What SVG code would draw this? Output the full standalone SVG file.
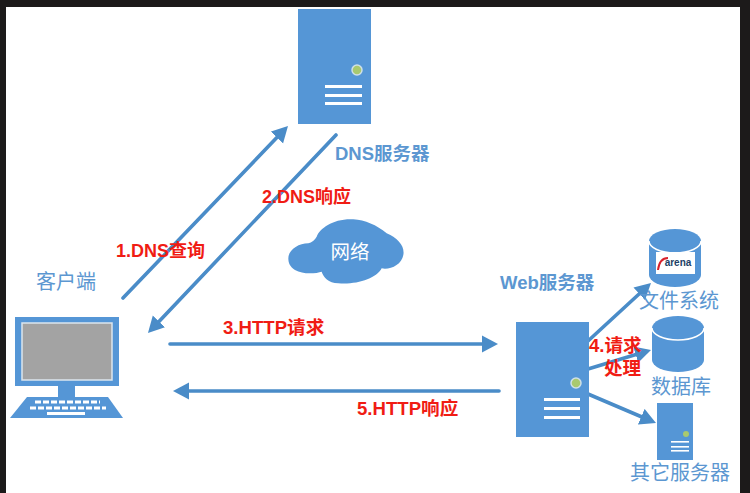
<svg xmlns="http://www.w3.org/2000/svg" width="750" height="493" viewBox="0 0 750 493">
<style>
.blue{fill:#5596d6}
.ln{fill:#fff}
.lbl{font-family:"Liberation Sans","Noto Sans CJK SC",sans-serif;font-size:18.5px;fill:#5c97d1;font-weight:700}
.lblw{font-family:"Noto Sans CJK SC","Liberation Sans",sans-serif;font-size:20px;fill:#5c97d1}
.red{font-family:"Liberation Sans","Noto Sans CJK SC",sans-serif;font-size:18px;fill:#f01c14;font-weight:700}
.redw{font-size:18.6px}
.conn{stroke:#4a8cc8;stroke-width:3.6;fill:none;stroke-linecap:round}
.head{fill:#4a8cc8}
</style>
<defs>
<marker id="arr" markerUnits="userSpaceOnUse" markerWidth="18" markerHeight="18" refX="2" refY="9" orient="auto"><path d="M0 0.5L16 9L0 17.5Z" class="head"/></marker>
</defs>
<rect width="750" height="493" fill="#fff"/>
<rect width="750" height="7" fill="#1c1a1a"/>
<rect width="6" height="493" fill="#1c1a1a"/>
<rect x="740" width="10" height="493" fill="#1c1a1a"/>
<g id="connectors">
<path class="conn" marker-end="url(#arr)" d="M123 298L278.3 136.1"/>
<path class="conn" marker-end="url(#arr)" d="M336 135L157.6 322.9"/>
<path class="conn" marker-end="url(#arr)" d="M170 344L484 344"/>
<path class="conn" marker-end="url(#arr)" d="M499 391L187 391"/>
<path class="conn" marker-end="url(#arr)" d="M588 341L640.7 292.5"/>
<path class="conn" marker-end="url(#arr)" d="M588 369L637.6 354"/>
<path class="conn" marker-end="url(#arr)" d="M588 394L643.1 417.5"/>
</g>
<g id="dns-server">
<rect class="blue" x="298" y="9" width="73" height="115"/>
<circle cx="357" cy="70" r="5" fill="#a9c96f" stroke="#cfe0e8" stroke-width="1.5"/>
<rect class="ln" x="325" y="85" width="37" height="3"/>
<rect class="ln" x="325" y="94" width="37" height="3"/>
<rect class="ln" x="325" y="102" width="37" height="3"/>
<text class="lbl" x="335" y="160">DNS服务器</text>
</g>
<g id="client">
<text class="lblw" x="36" y="289">客户端</text>
<rect class="blue" x="15" y="317" width="104" height="69"/>
<rect x="22" y="323" width="90" height="57" fill="#a3a3a3" stroke="#dce6ee" stroke-width="1.5"/>
<rect class="blue" x="58" y="386" width="17" height="11"/>
<path class="blue" d="M27 397H108L123 418H10Z"/>
<path d="M35 402H100M30 408H106" stroke="#fff" stroke-width="3" stroke-dasharray="6 2" fill="none"/>
<rect class="ln" x="47" y="412" width="38" height="3"/>
</g>
<g id="network">
<path class="blue" transform="translate(270 200) scale(.3333)" d="M55 175C55 150 85 130 115 130C125 128 135 120 140 110C150 85 190 55 250 58C285 60 320 75 350 100C385 115 405 140 400 165C395 195 360 210 335 205C320 235 260 255 205 250C175 250 160 230 155 215C140 220 100 225 75 210C60 200 55 190 55 175Z"/>
<text x="350" y="259" font-family="Noto Sans CJK SC,sans-serif" font-size="19.5" fill="#fff" text-anchor="middle">网络</text>
</g>
<g id="web-server">
<text class="lbl" x="500" y="289">Web服务器</text>
<rect class="blue" x="516" y="322" width="73" height="115"/>
<circle cx="576" cy="383" r="5" fill="#a9c96f" stroke="#cfe0e8" stroke-width="1.5"/>
<rect class="ln" x="544" y="398" width="36" height="3"/>
<rect class="ln" x="544" y="407" width="36" height="3"/>
<rect class="ln" x="544" y="416" width="36" height="3"/>
</g>
<g id="file-system">
<path class="blue" d="M649 241A26 12 0 0 1 701 241V275A26 12 0 0 1 649 275Z"/>
<path d="M649 241A26 12 0 0 0 701 241" stroke="#fff" stroke-width="1.5" fill="none"/>
<rect x="656" y="252" width="39" height="22" fill="#fff"/>
<path d="M658 270C659 262 663 258 668 258" stroke="#d8202a" stroke-width="2" fill="none"/>
<text x="678" y="266" font-family="Liberation Sans,sans-serif" font-size="10" font-weight="700" fill="#1d3f66" text-anchor="middle">arena</text>
<text class="lblw" x="639" y="308">文件系统</text>
</g>
<g id="database">
<path class="blue" d="M652 328A26 12 0 0 1 704 328V360A26 12 0 0 1 652 360Z"/>
<path d="M652 328A26 12 0 0 0 704 328" stroke="#fff" stroke-width="1.5" fill="none"/>
<text class="lblw" x="651" y="394">数据库</text>
</g>
<g id="other-server">
<rect class="blue" x="657" y="403" width="36" height="57"/>
<circle cx="686" cy="434" r="3" fill="#a9c96f"/>
<rect class="ln" x="671" y="441" width="18" height="1.6"/>
<rect class="ln" x="671" y="446" width="18" height="1.6"/>
<rect class="ln" x="671" y="450" width="18" height="1.6"/>
<text class="lblw" x="630" y="480">其它服务器</text>
</g>
<g id="labels">
<text class="red" x="116" y="257">1.DNS查询</text>
<text class="red" x="262" y="203">2.DNS响应</text>
<text class="red redw" x="223" y="334">3.HTTP请求</text>
<text class="red redw" x="589" y="352">4.请求</text>
<text class="red redw" x="604" y="375">处理</text>
<text class="red redw" x="357" y="415">5.HTTP响应</text>
</g>
</svg>
